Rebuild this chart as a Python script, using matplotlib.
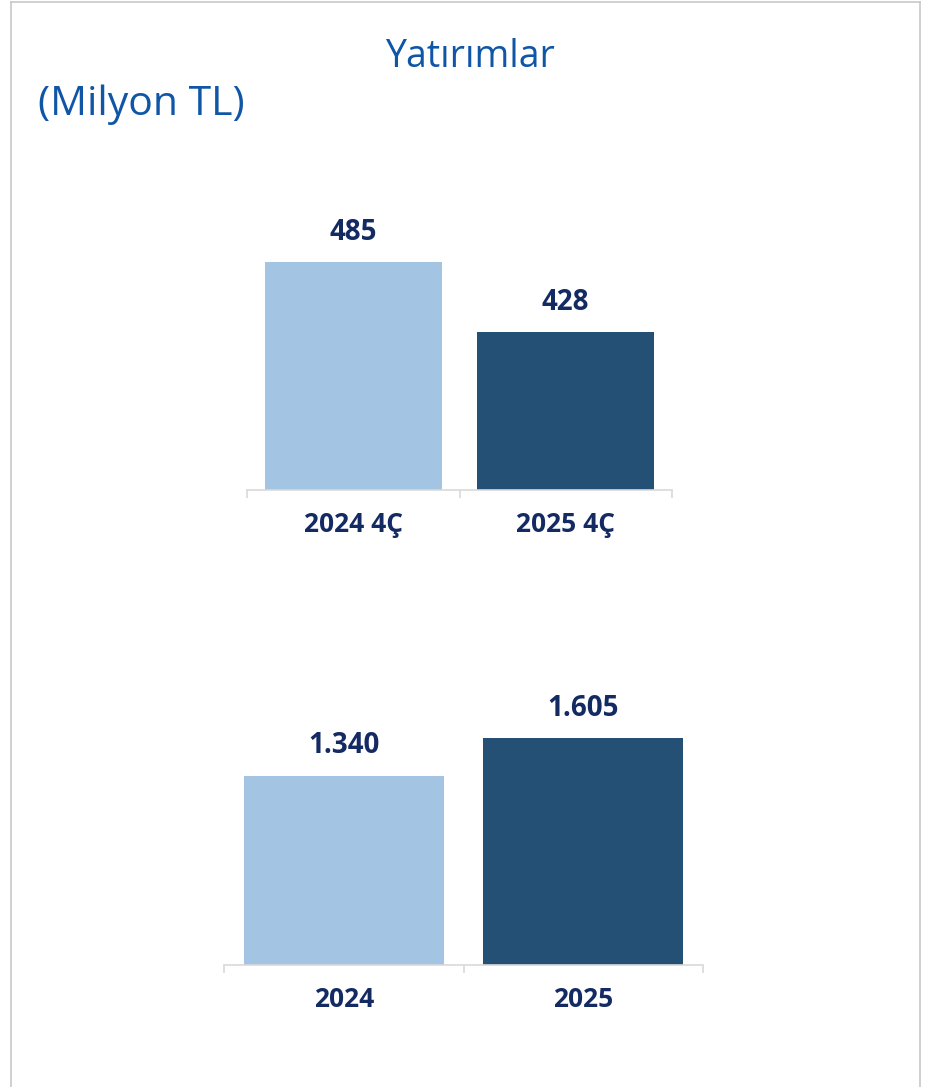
import matplotlib
matplotlib.use("Agg")
import matplotlib.pyplot as plt
from matplotlib.lines import Line2D

# data
quarter_labels = ["2024 4Ç", "2025 4Ç"]
quarter_values = [485, 428]
year_labels = ["2024", "2025"]
year_values = [1340, 1605]

title = "Yatırımlar"
unit = "(Milyon TL)"

light = "#a3c4e2"
dark = "#245076"
navy = "#132a63"
title_blue = "#0f56a6"
grid_gray = "#d9d9d9"

plt.rcParams["font.family"] = ["Open Sans", "DejaVu Sans"]


def fmt(v):
    return f"{v:,}".replace(",", ".")


def draw(ax, labels, values, ylim):
    x = range(len(values))
    bars = ax.bar(x, values, width=0.835, color=[light, dark], zorder=2)
    ax.set_xlim(-0.5, len(values) - 0.5)
    ax.set_ylim(*ylim)
    for s in ["top", "right", "left"]:
        ax.spines[s].set_visible(False)
    ax.spines["bottom"].set_color(grid_gray)
    ax.spines["bottom"].set_linewidth(1.2)
    ax.set_yticks([])
    ax.set_xticks(list(x))
    ax.set_xticklabels(labels, fontsize=19, fontweight="bold", color=navy)
    ax.tick_params(axis="x", which="major", length=0, pad=15)
    ax.set_xticks([i - 0.5 for i in range(len(values) + 1)], minor=True)
    ax.tick_params(axis="x", which="minor", length=6, width=1.2, color=grid_gray, direction="out")
    for bar, v in zip(bars, values):
        ax.annotate(fmt(v), (bar.get_x() + bar.get_width() / 2, bar.get_height()),
                    xytext=(0, 11), textcoords="offset points", ha="center", va="bottom",
                    fontsize=20, fontweight="bold", color=navy)


fig = plt.figure(figsize=(9.35, 10.87), dpi=100)

# top chart: axis does not start at zero
ax1 = fig.add_axes([247 / 935, 1 - 490 / 1087, 425 / 935, 260 / 1087])
draw(ax1, quarter_labels, quarter_values, (299, 511))

ax2 = fig.add_axes([224 / 935, 1 - 965 / 1087, 479 / 935, 265 / 1087])
draw(ax2, year_labels, year_values, (0, 1874))

fig.text(470 / 935, 1 - 57 / 1087, title, ha="center", va="center",
         fontsize=27, color=title_blue)
fig.text(38 / 935, 1 - 105 / 1087, unit, ha="left", va="center",
         fontsize=29.5, color=title_blue)

# light frame around the panel
W, H = 935, 1087
for xs, ys in [([10.5, 10.5], [0, H - 1.5]), ([919.5, 919.5], [0, H - 1.5]),
               ([10.5, 919.5], [H - 1.5, H - 1.5])]:
    fig.add_artist(Line2D([v / W for v in xs], [v / H for v in ys],
                          color="#c8c8c8", linewidth=1.2))

fig.savefig("out.png", dpi=100, facecolor="white")
